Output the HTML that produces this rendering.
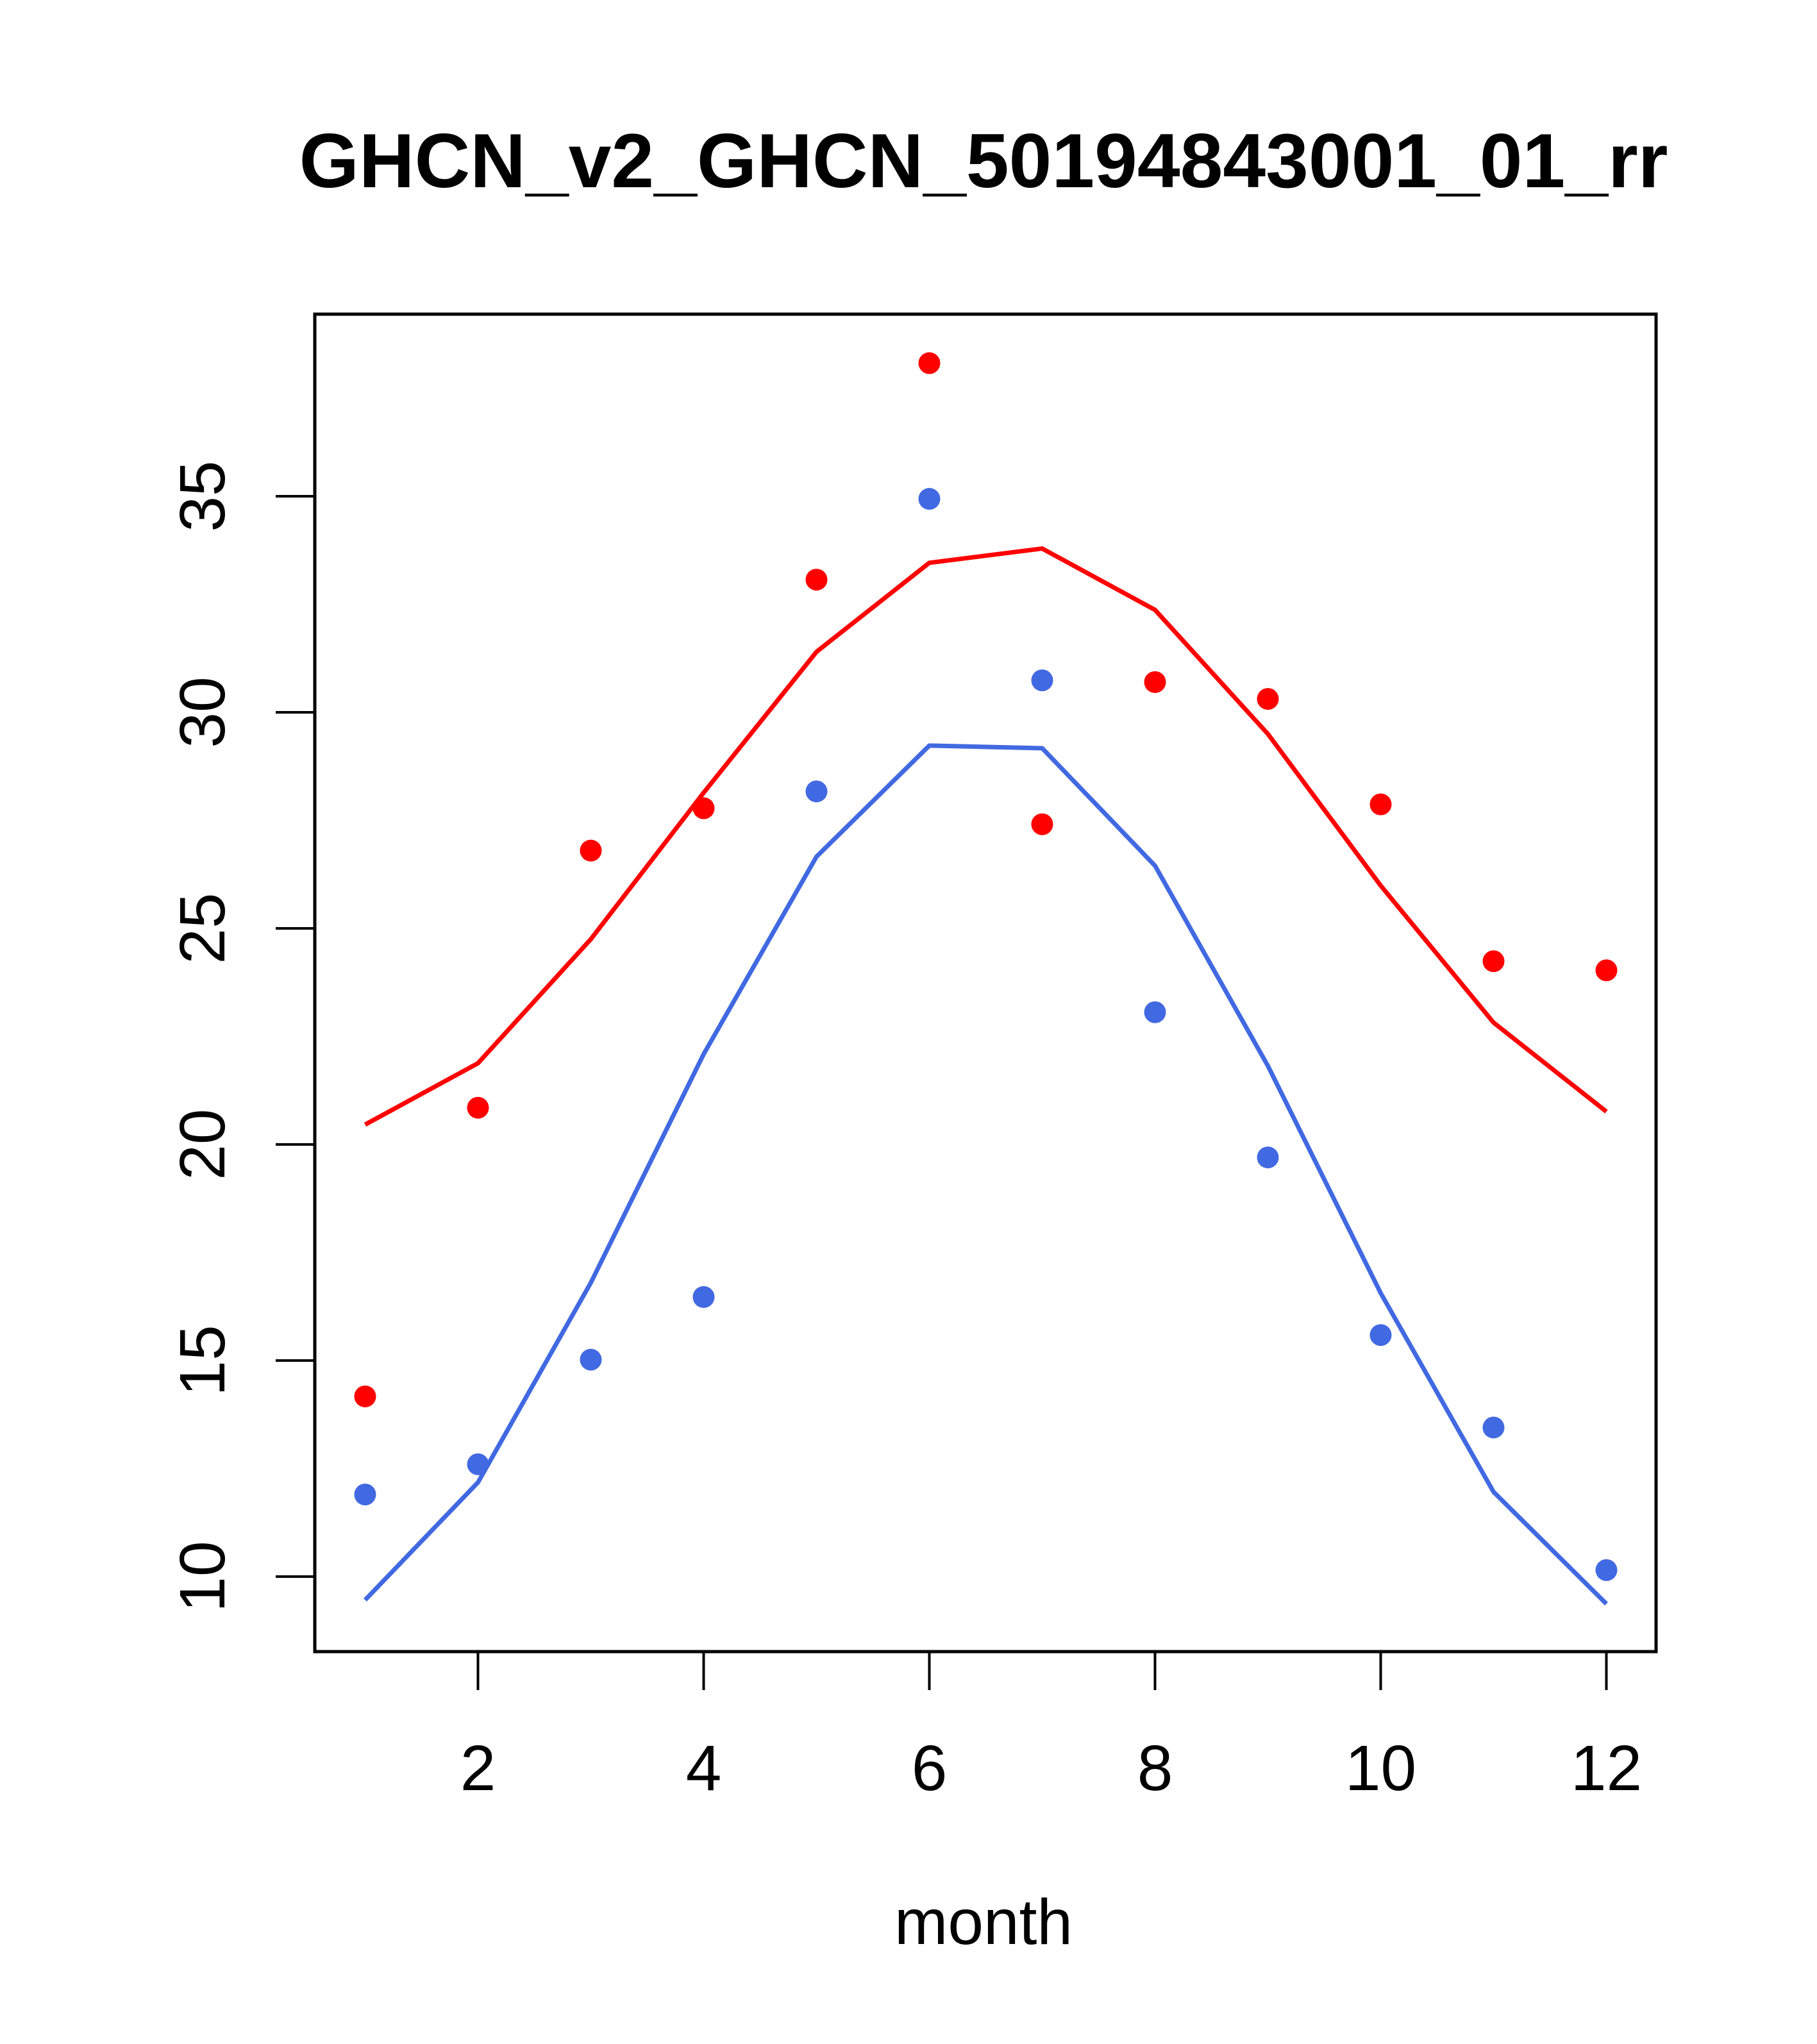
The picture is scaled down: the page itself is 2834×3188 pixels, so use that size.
<!DOCTYPE html>
<html><head><meta charset="utf-8"><style>
html,body{margin:0;padding:0;background:#fff;}
svg{display:block;font-family:"Liberation Sans",sans-serif;}
</style></head><body>
<svg id="chart" width="2834" height="3188" viewBox="0 0 2834 3188">
<text x="1534" y="292" text-anchor="middle" font-size="120" font-weight="bold">GHCN_v2_GHCN_50194843001_01_rr</text>
<rect x="491" y="490" width="2092" height="2086" fill="none" stroke="#000" stroke-width="5"/>
<g id="xaxis"></g>
<g id="yaxis"></g>
<g id="series"></g>
<text x="1534" y="3032" text-anchor="middle" font-size="100">month</text>
</svg>
<script>
const months = [1,2,3,4,5,6,7,8,9,10,11,12];
const redPoints = [14.17,20.85,26.8,27.78,33.07,38.08,27.41,30.7,30.31,27.87,24.24,24.03];
const bluePoints = [11.9,12.6,15.02,16.47,28.17,34.94,30.74,23.06,19.7,15.59,13.45,10.15];
const redLine = [20.46,21.88,24.75,28.14,31.4,33.46,33.79,32.37,29.5,25.99,22.82,20.76];
const blueLine = [9.46,12.18,16.8,22.09,26.66,29.23,29.17,26.45,21.82,16.56,11.96,9.37];
const xTicks = [2,4,6,8,10,12];
const yTicks = [10,15,20,25,30,35];

const NS = "http://www.w3.org/2000/svg";
function X(m){ return 569.5 + (m-1)*176; }
function Y(v){ return 2459 - (v-10)*67.4; }
function mk(tag, attrs, parent){
  const e = document.createElementNS(NS, tag);
  for (const k in attrs) e.setAttribute(k, attrs[k]);
  parent.appendChild(e);
  return e;
}
const xa = document.getElementById('xaxis');
const ya = document.getElementById('yaxis');
const sr = document.getElementById('series');

xTicks.forEach(t => {
  const l = mk('line', {x1:X(t), x2:X(t), y1:2576, y2:2636, stroke:'#000','stroke-width':4}, xa);
  
  
  const tx = mk('text', {x:X(t), y:2792, 'text-anchor':'middle', 'font-size':100}, xa);
  tx.textContent = t;
  
  
});
yTicks.forEach(t => {
  const l = mk('line', {x1:430, x2:491, y1:Y(t), y2:Y(t), stroke:'#000','stroke-width':4}, ya);
  
  
  const tx = mk('text', {x:0, y:0, 'text-anchor':'middle', 'font-size':100,
    transform:'translate(350,'+Y(t)+') rotate(-90)'}, ya);
  tx.textContent = t;
  
  
});

function drawLine(vals, color, name){
  const p = mk('polyline', {points: vals.map((v,i)=>X(months[i])+','+Y(v)).join(' '),
    fill:'none', stroke:color, 'stroke-width':7, 'stroke-linejoin':'round'}, sr);
  
  
}
function drawPts(vals, color, name){
  vals.forEach((v,i) => {
    const c = mk('circle', {cx:X(months[i]), cy:Y(v), r:17, fill:color}, sr);
    
    
  });
}
drawLine(redLine, '#ff0000', 'red-line');
drawLine(blueLine, '#4169e1', 'blue-line');
drawPts(redPoints, '#ff0000', 'red-point');
drawPts(bluePoints, '#4169e1', 'blue-point');
</script>
</body></html>
